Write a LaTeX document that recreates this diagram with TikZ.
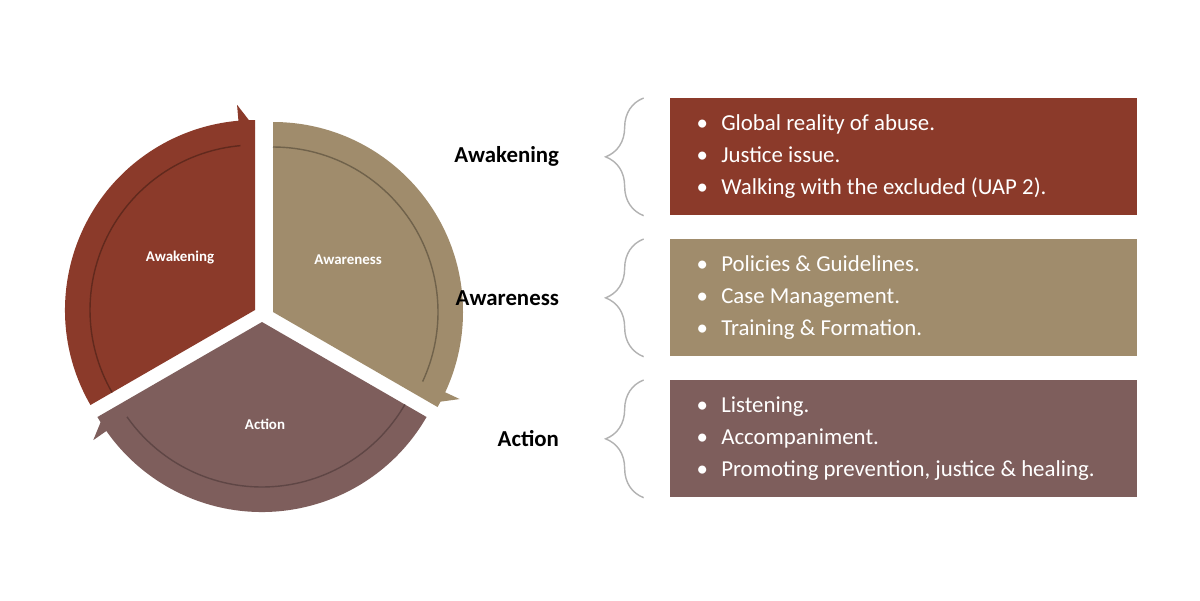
\documentclass[tikz,border=0pt]{standalone}
\usepackage{fontspec}
\setmainfont{Carlito}
\usetikzlibrary{calc,decorations.pathreplacing}
\definecolor{awkred}{HTML}{8B3A2A}
\definecolor{awrtan}{HTML}{A08C6C}
\definecolor{actmauve}{HTML}{7E5E5C}
\tikzstyle{box}=[draw=none, minimum width=9.34cm, minimum height=2.34cm, anchor=north west]
\tikzstyle{items}=[text=white, align=left, anchor=west, inner sep=0pt,
    font=\fontsize{13}{18.2}\selectfont]
\tikzstyle{lbl}=[anchor=east, inner sep=0pt, font=\fontsize{13}{15}\selectfont\bfseries]
\tikzstyle{pielbl}=[text=white, font=\fontsize{8.5}{10}\selectfont\bfseries]
\tikzstyle{brc}=[draw=black!30, thick, decorate,
    decoration={brace, mirror, amplitude=0.76cm}]
\def\rad{190}
\def\rin{165}
\newcommand\bul{\makebox[14pt][l]{\textbullet}}
% one exploded sector with its arrow rim, drawn clockwise
\newcommand\pieseg[5]{%
    \fill[#4] (#1) -- ($(#1)+(#2:\rad)$) arc[start angle=#2, end angle=#3, radius=\rad] -- cycle;
    \draw[#5, line width=0.8pt] ($(#1)+(#2:\rin)$) arc[start angle=#2, end angle=#3+5, radius=\rin];
    \fill[#4] ($(#1)+(#3+5:\rin-6)$) -- ($(#1)+(#3+5:\rad+16)$) -- ($(#1)+(#3:\rad-8)$) -- cycle;
}
\begin{document}
\begin{tikzpicture}[x=0.02cm, y=0.02cm]
    \useasboundingbox[fill=white] (0,0) rectangle (1200,600);

    % pie on the left
    \coordinate (pa) at (255,290);
    \coordinate (pb) at (273,288);
    \coordinate (pc) at (262,278);
    \pieseg{pa}{210}{90}{awkred}{awkred!70!black}
    \pieseg{pb}{90}{-30}{awrtan}{awrtan!70!black}
    \pieseg{pc}{-30}{-150}{actmauve}{actmauve!75!black}
    \node[pielbl] (wake) at (180,342) {Awakening};
    \node[pielbl] (ware) at (348,340) {Awareness};
    \node[pielbl] (act) at (265,176) {Action};

    % boxes on the right
    \node[box, fill=awkred] (b1) at (670,502) {};
    \node[box, fill=awrtan] (b2) at (670,361) {};
    \node[box, fill=actmauve] (b3) at (670,220) {};
    \node[items] (t1) at ([xshift=15]b1.west) {\bul Global reality of abuse.\\ \bul Justice issue.\\ \bul Walking with the excluded (UAP 2).};
    \node[items] (t2) at ([xshift=15]b2.west) {\bul Policies \& Guidelines.\\ \bul Case Management.\\ \bul Training \& Formation.};
    \node[items] (t3) at ([xshift=15]b3.west) {\bul Listening.\\ \bul Accompaniment.\\ \bul Promoting prevention, justice \& healing.};

    % braces and labels
    \foreach \b/\t in {b1/Awakening, b2/Awareness, b3/Action}{
        \draw[brc] ([xshift=-15]\b.north west) -- ([xshift=-15]\b.south west);
        \node[lbl] (l\b) at ([xshift=-63]\b.west) {\t};
    }
\end{tikzpicture}
\end{document}
